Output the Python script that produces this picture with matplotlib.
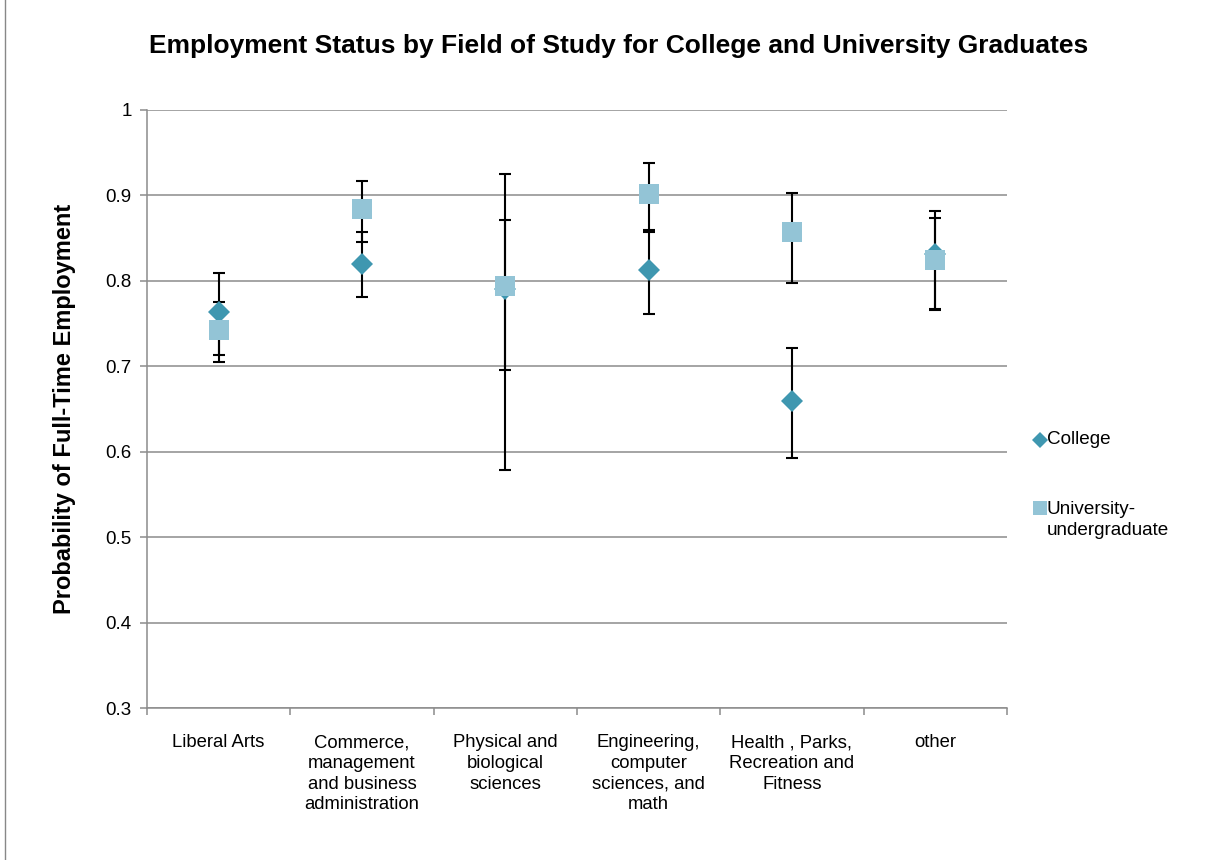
import numpy as np
import matplotlib
matplotlib.use("Agg")
import matplotlib.pyplot as plt
from matplotlib.lines import Line2D

plt.rcParams['font.family'] = ['Liberation Sans', 'DejaVu Sans']

fields = ["Liberal Arts",
          "Commerce,\nmanagement\nand business\nadministration",
          "Physical and\nbiological\nsciences",
          "Engineering,\ncomputer\nsciences, and\nmath",
          "Health , Parks,\nRecreation and\nFitness",
          "other"]

college = [0.763, 0.820, 0.791, 0.813, 0.659, 0.831]
college_lo = [0.713, 0.781, 0.579, 0.761, 0.593, 0.767]
college_hi = [0.809, 0.857, 0.925, 0.860, 0.722, 0.882]

univ = [0.742, 0.884, 0.794, 0.902, 0.857, 0.825]
univ_lo = [0.705, 0.845, 0.696, 0.857, 0.797, 0.766]
univ_hi = [0.775, 0.917, 0.871, 0.938, 0.903, 0.874]

c_col = '#3f97b0'
u_col = '#93c4d6'
grid_col = '#8c8c8c'

fig = plt.figure(figsize=(12.25, 8.6), dpi=100)
ax = fig.add_axes([0.12, 0.1767, 0.702, 0.6954])

x = np.arange(len(fields))
c = np.array(college)
u = np.array(univ)

ax.errorbar(x, c, yerr=[c - np.array(college_lo), np.array(college_hi) - c],
            fmt='none', ecolor='black', elinewidth=1.5, capsize=4.3, capthick=1.5, zorder=3)
ax.errorbar(x, u, yerr=[u - np.array(univ_lo), np.array(univ_hi) - u],
            fmt='none', ecolor='black', elinewidth=1.5, capsize=4.3, capthick=1.5, zorder=3)
ax.plot(x, c, 'D', color=c_col, markersize=11, markeredgewidth=0, zorder=4)
ax.plot(x, u, 's', color=u_col, markersize=14, markeredgewidth=0, zorder=5)

ax.set_xlim(-0.5, len(fields) - 0.5)
ax.set_ylim(0.3, 1.0)
ax.set_yticks(np.arange(0.3, 1.01, 0.1))
ax.set_yticklabels(['0.3', '0.4', '0.5', '0.6', '0.7', '0.8', '0.9', '1'])
ax.yaxis.grid(True, color=grid_col, linewidth=1.1)
ax.set_axisbelow(True)

ax.set_xticks(np.arange(len(fields) + 1) - 0.5)
ax.set_xticklabels([])
ax.set_xticks(x, minor=True)
ax.set_xticklabels(fields, minor=True, fontsize=13.3, linespacing=1.28, va='top')
ax.tick_params(axis='x', which='minor', length=0, pad=19)
ax.tick_params(axis='x', which='major', length=5, color=grid_col, width=1.1, direction='out')
ax.tick_params(axis='y', length=5, color=grid_col, width=1.1, labelsize=13.5, pad=6)

for s in ['top', 'right']:
    ax.spines[s].set_visible(False)
for s in ['left', 'bottom']:
    ax.spines[s].set_color(grid_col)
    ax.spines[s].set_linewidth(1.1)

ax.set_ylabel('Probability of Full-Time Employment', fontsize=17, fontweight='bold')
ax.yaxis.set_label_coords(-0.083, 0.5)
fig.suptitle('Employment Status by Field of Study for College and University Graduates',
             x=0.505, y=0.9465, va='center', fontsize=19, fontweight='bold')

# legend, drawn by hand so the square sits beside the first line of its label
fig.add_artist(Line2D([1040 / 1225], [1 - 440 / 860], transform=fig.transFigure, marker='D',
                      color=c_col, markersize=8, markeredgewidth=0, linestyle='none'))
fig.text(1047 / 1225, 1 - 440 / 860, 'College', fontsize=13.6, va='center', ha='left')
fig.add_artist(Line2D([1040 / 1225], [1 - 508 / 860], transform=fig.transFigure, marker='s',
                      color=u_col, markersize=10, markeredgewidth=0, linestyle='none'))
fig.text(1047 / 1225, 1 - 520 / 860, 'University-\nundergraduate', fontsize=13.6,
         va='center', ha='left', linespacing=1.32)

fig.add_artist(plt.Rectangle((0.004, -0.01), 1.2, 1.2, transform=fig.transFigure,
                             fill=False, edgecolor='#888888', linewidth=1))

fig.savefig('out.png', dpi=100)
